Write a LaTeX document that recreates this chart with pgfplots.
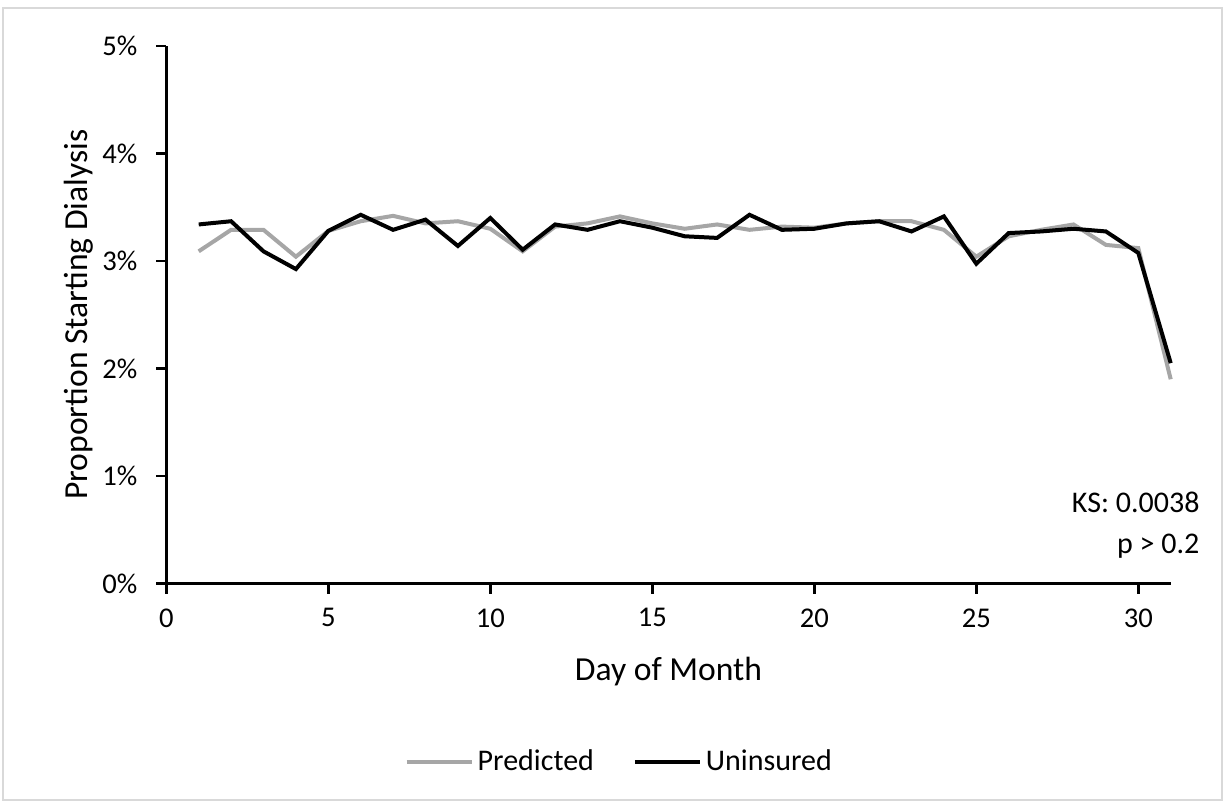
\documentclass[border=0pt]{standalone}
\usepackage{pgfplots}
\pgfplotsset{compat=1.18}
\usepackage{fontspec}
\setmainfont{Carlito}
\definecolor{predgray}{HTML}{A6A6A6}
\definecolor{framegray}{HTML}{D9D9D9}
\begin{document}
\begin{tikzpicture}
\path[use as bounding box] (-83.15pt,-110.25pt) rectangle (529.35pt,291.75pt);
\draw[framegray, line width=1pt] (-81.65pt,-108.25pt) rectangle (527.85pt,287.75pt);
\begin{axis}[
  at={(0pt,0pt)}, anchor=origin,
  scale only axis, width=502.2pt, height=268.75pt,
  xmin=0, xmax=31, ymin=0, ymax=5,
  axis x line=bottom, axis y line=left,
  axis line style={line width=1.4pt, -},
  every tick/.style={black, line width=1.4pt},
  tick align=outside, major tick length=5pt,
  xtick={0,5,10,15,20,25,30},
  xticklabels={0,5,10,15,20,25,30},
  ytick={0,1,2,3,4,5},
  yticklabels={0\%,1\%,2\%,3\%,4\%,5\%},
  tick label style={font=\fontsize{14.3}{16}\selectfont},
  xticklabel style={yshift=-4pt},
  yticklabel style={xshift=-6pt},
  xlabel={Day of Month},
  ylabel={Proportion Starting Dialysis},
  label style={font=\fontsize{16.8}{19}\selectfont},
  xlabel style={at={(axis description cs:0.5,0)}, anchor=center, yshift=-44pt},
  ylabel style={at={(axis description cs:0,0.5)}, anchor=center, rotate=0, xshift=0pt, yshift=44pt},
  legend columns=2,
  legend style={at={(0.452,-0.332)}, anchor=center, draw=none, fill=none,
    font=\fontsize{15}{18}\selectfont,
    /tikz/every even column/.append style={column sep=17.5pt}},
  legend image code/.code={\draw[#1] (0pt,0pt) -- (32.5pt,0pt);},
  clip=false,
]
\addplot[predgray, line width=2pt] coordinates {
(1,3.09) (2,3.29) (3,3.29) (4,3.04) (5,3.28) (6,3.37) (7,3.42) (8,3.35) (9,3.37) (10,3.30)
(11,3.09) (12,3.32) (13,3.35) (14,3.415) (15,3.35) (16,3.30) (17,3.34) (18,3.29) (19,3.32) (20,3.31)
(21,3.35) (22,3.37) (23,3.37) (24,3.29) (25,3.04) (26,3.23) (27,3.29) (28,3.34) (29,3.15) (30,3.12) (31,1.90)
};
\addlegendentry{Predicted}
\addplot[black, line width=2pt] coordinates {
(1,3.34) (2,3.37) (3,3.09) (4,2.925) (5,3.28) (6,3.43) (7,3.29) (8,3.385) (9,3.14) (10,3.40)
(11,3.105) (12,3.34) (13,3.29) (14,3.37) (15,3.31) (16,3.23) (17,3.215) (18,3.43) (19,3.29) (20,3.30)
(21,3.35) (22,3.37) (23,3.275) (24,3.415) (25,2.975) (26,3.26) (27,3.275) (28,3.30) (29,3.275) (30,3.075) (31,2.05)
};
\addlegendentry{Uninsured}
\node[anchor=base east, font=\fontsize{15}{18}\selectfont, inner sep=0pt] at (axis description cs:1.029,0.133) {KS: 0.0038};
\node[anchor=base east, font=\fontsize{15}{18}\selectfont, inner sep=0pt] at (axis description cs:1.029,0.0549) {p > 0.2};
\end{axis}
\end{tikzpicture}
\end{document}
